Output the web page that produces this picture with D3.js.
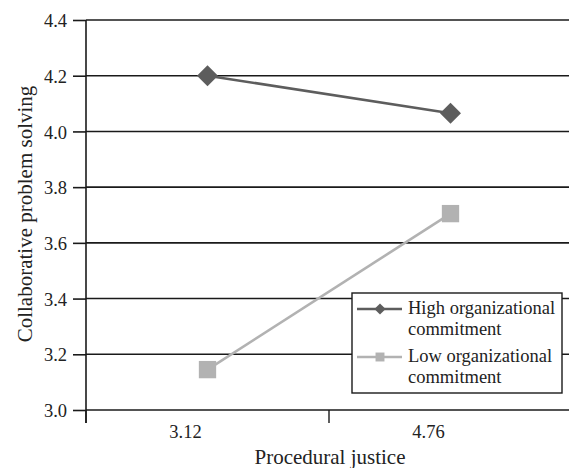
<!DOCTYPE html>
<html>
<head>
<meta charset="utf-8">
<script src="https://cdn.jsdelivr.net/npm/d3@7"></script>
<style>
  body { margin: 0; background: #fff; }
  svg text { font-family: "Liberation Serif", "Times New Roman", serif; fill: #222; }
</style>
</head>
<body>
<div id="chart"></div>
<script>
// DATA
const categories = ["3.12", "4.76"];
const highCommitment = [4.20, 4.065];
const lowCommitment = [3.145, 3.705];
const yTicks = [3.0, 3.2, 3.4, 3.6, 3.8, 4.0, 4.2, 4.4];
const seriesNames = [
  ["High organizational", "commitment"],
  ["Low organizational", "commitment"]
];

// SIZE
const svgWidth = 569;
const svgHeight = 468;
const plotLeft = 86;
const plotTop = 20;
const plotBottom = 410;

const svg = d3.select("#chart")
  .append("svg")
  .attr("width", svgWidth)
  .attr("height", svgHeight);

// SCALES
const xScale = d3.scaleBand().domain(categories).range([plotLeft, 572]);
const yScale = d3.scaleLinear().domain([3.0, 4.4]).range([plotBottom, plotTop]);

// GRIDLINES + Y AXIS
const yAxis = d3.axisLeft(yScale)
  .tickValues(yTicks)
  .tickFormat(d3.format(".1f"))
  .tickSize(13)
  .tickPadding(6);

const gy = svg.append("g")
  .attr("transform", `translate(${plotLeft},0)`)
  .call(yAxis);
gy.select(".domain").remove();
gy.selectAll(".tick line").attr("stroke", "#1a1a1a").attr("stroke-width", 1.6);
gy.selectAll(".tick text")
  .style("font-size", "18.5px")
  .attr("dy", "0.36em");

svg.append("g")
  .selectAll("line")
  .data(yTicks)
  .enter()
  .append("line")
  .attr("x1", plotLeft)
  .attr("x2", svgWidth)
  .attr("y1", d => yScale(d))
  .attr("y2", d => yScale(d))
  .attr("stroke", "#1a1a1a")
  .attr("stroke-width", 1.6);

// vertical axis line
svg.append("line")
  .attr("x1", plotLeft).attr("x2", plotLeft)
  .attr("y1", plotTop).attr("y2", plotBottom + 13)
  .attr("stroke", "#1a1a1a")
  .attr("stroke-width", 1.6);

// X AXIS TICKS (at band edges)
const edges = categories.map(c => xScale(c)).concat([xScale.range()[1]]);
svg.append("g")
  .selectAll("line")
  .data(edges)
  .enter()
  .append("line")
  .attr("x1", d => d).attr("x2", d => d)
  .attr("y1", plotBottom).attr("y2", plotBottom + 13)
  .attr("stroke", "#1a1a1a")
  .attr("stroke-width", 1.4);

// category labels sit a bit left of the band centre, like the original
svg.append("g")
  .selectAll("text")
  .data(categories)
  .enter()
  .append("text")
  .attr("x", d => xScale(d) + xScale.bandwidth() / 2 - 22)
  .attr("y", plotBottom + 28)
  .attr("text-anchor", "middle")
  .style("font-size", "18.5px")
  .text(d => d);

// AXIS TITLES
svg.append("text")
  .attr("x", 330)
  .attr("y", 464)
  .attr("text-anchor", "middle")
  .style("font-size", "21px")
  .text("Procedural justice");

svg.append("text")
  .attr("transform", "translate(32,214) rotate(-90)")
  .attr("text-anchor", "middle")
  .style("font-size", "21px")
  .text("Collaborative problem solving");

// SERIES
const cx = d => xScale(d) + xScale.bandwidth() / 2;
const line = d3.line().x(d => cx(d.cat)).y(d => yScale(d.v));

const series = [
  { values: lowCommitment, color: "#b2b2b2", symbol: d3.symbolSquare, size: 300 },
  { values: highCommitment, color: "#5d5d5d", symbol: d3.symbolDiamond2, size: 280 }
];

series.forEach(s => {
  const pts = categories.map((c, i) => ({ cat: c, v: s.values[i] }));
  svg.append("path")
    .datum(pts)
    .attr("d", line)
    .attr("fill", "none")
    .attr("stroke", s.color)
    .attr("stroke-width", 2.6);
  svg.selectAll(null)
    .data(pts)
    .enter()
    .append("path")
    .attr("d", d3.symbol().type(s.symbol).size(s.size))
    .attr("transform", d => `translate(${cx(d.cat)},${yScale(d.v)})`)
    .attr("fill", s.color);
});

// LEGEND
const legend = svg.append("g").attr("transform", "translate(352,293)");
legend.append("rect")
  .attr("width", 210)
  .attr("height", 100)
  .attr("fill", "#fff")
  .attr("stroke", "#1a1a1a")
  .attr("stroke-width", 1.4);

const legendItems = [
  { color: "#5d5d5d", symbol: d3.symbolDiamond2, size: 80, lines: seriesNames[0] },
  { color: "#b2b2b2", symbol: d3.symbolSquare, size: 80, lines: seriesNames[1] }
];

legendItems.forEach((item, i) => {
  const g = legend.append("g").attr("transform", `translate(0,${i * 48})`);
  g.append("line")
    .attr("x1", 5).attr("x2", 50)
    .attr("y1", 16).attr("y2", 16)
    .attr("stroke", item.color)
    .attr("stroke-width", 2.6);
  g.append("path")
    .attr("d", d3.symbol().type(item.symbol).size(item.size))
    .attr("transform", "translate(28,16)")
    .attr("fill", item.color);
  item.lines.forEach((t, j) => {
    g.append("text")
      .attr("x", 56)
      .attr("y", 21 + j * 21)
      .style("font-size", "18.5px")
      .text(t);
  });
});
</script>
</body>
</html>
